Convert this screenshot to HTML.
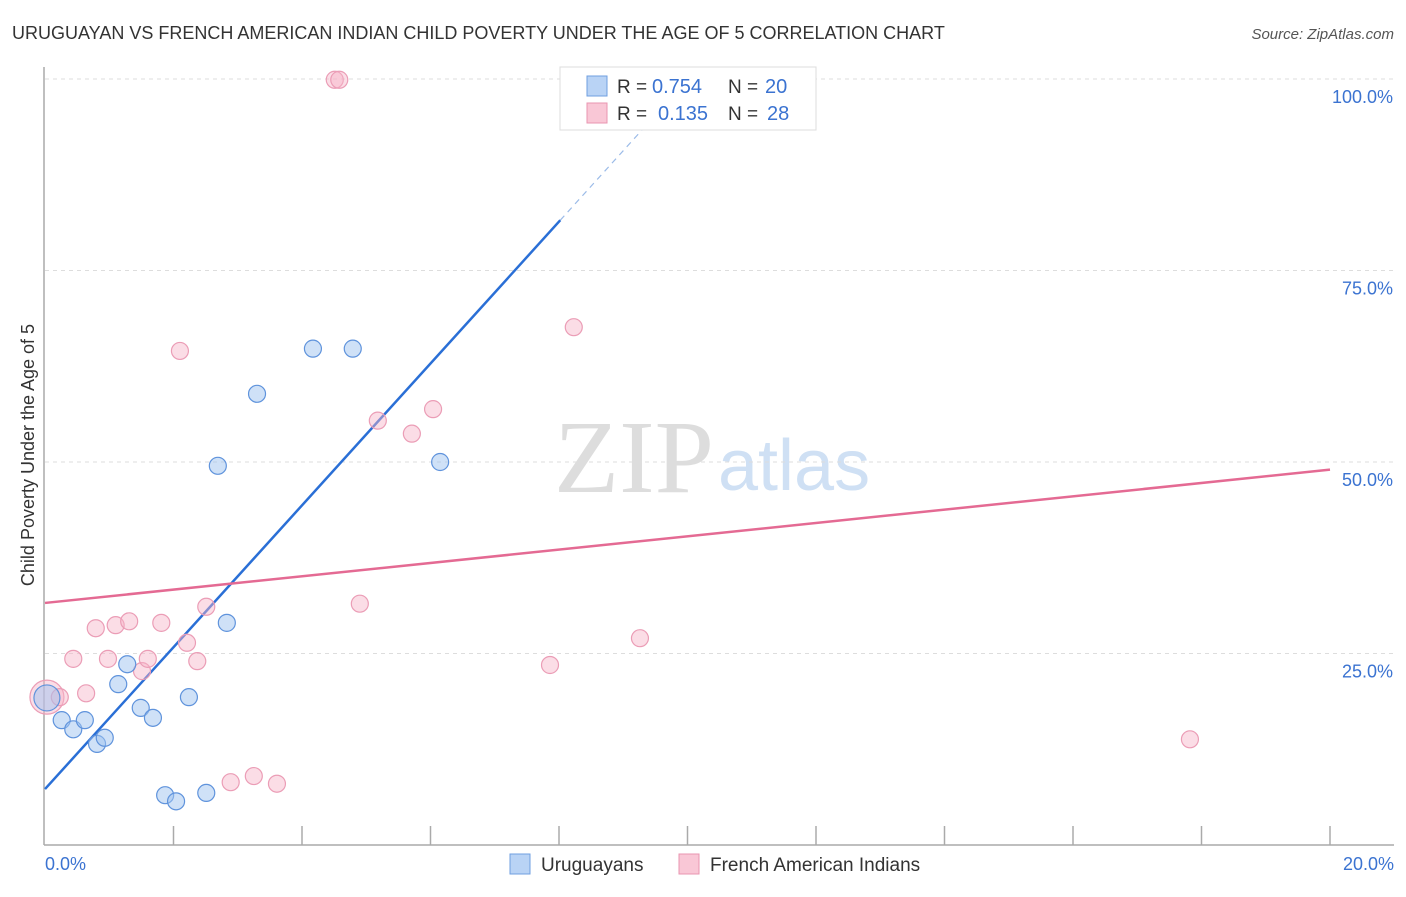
<!DOCTYPE html>
<html><head><meta charset="utf-8"><style>
body{margin:0;background:#fff;font-family:"Liberation Sans",sans-serif;}
</style></head><body>
<svg id="c" width="1406" height="892" xmlns="http://www.w3.org/2000/svg">
<text x="12" y="39" font-size="18" fill="#333">URUGUAYAN VS FRENCH AMERICAN INDIAN CHILD POVERTY UNDER THE AGE OF 5 CORRELATION CHART</text>
<text x="1394" y="39" font-size="15" fill="#555" font-style="italic" text-anchor="end">Source: ZipAtlas.com</text>
<text x="714" y="492" font-size="104" font-family="Liberation Serif,serif" fill="#ddd" text-anchor="end" textLength="160" lengthAdjust="spacingAndGlyphs">ZIP</text>
<text x="718" y="490" font-size="72" fill="#cfe0f4">atlas</text>
<g id="grid"></g><g id="axes"></g><g id="lines"></g><g id="pts"></g>
<text transform="translate(34,455) rotate(-90)" font-size="18" fill="#333" text-anchor="middle">Child Poverty Under the Age of 5</text>
<text x="45" y="870" font-size="18" fill="#3b73d1">0.0%</text>
<text x="1394" y="870" font-size="18" fill="#3b73d1" text-anchor="end">20.0%</text>
<g>
<rect x="560" y="67" width="256" height="63" fill="#fff" stroke="#ddd"/>
<rect x="587" y="76" width="20" height="20" fill="#b9d3f5" stroke="#6f9fe0"/>
<rect x="587" y="103" width="20" height="20" fill="#f9c7d6" stroke="#e995b0"/>
<text x="617" y="93" font-size="19" fill="#333">R =</text>
<text x="652" y="93" font-size="20" fill="#3b73d1">0.754</text>
<text x="728" y="93" font-size="19" fill="#333">N =</text>
<text x="765" y="93" font-size="20" fill="#3b73d1">20</text>
<text x="617" y="120" font-size="19" fill="#333">R =</text>
<text x="658" y="120" font-size="20" fill="#3b73d1">0.135</text>
<text x="728" y="120" font-size="19" fill="#333">N =</text>
<text x="767" y="120" font-size="20" fill="#3b73d1">28</text>
</g>
<g>
<rect x="510" y="854" width="20" height="20" fill="#b9d3f5" stroke="#6f9fe0"/>
<text x="541" y="871" font-size="19" fill="#333">Uruguayans</text>
<rect x="679" y="854" width="20" height="20" fill="#f9c7d6" stroke="#e995b0"/>
<text x="710" y="871" font-size="19" fill="#333">French American Indians</text>
</g>
</svg>
<script>
const blueX=[0.03,0.26,0.44,0.62,0.81,0.93,1.14,1.28,1.49,1.68,1.87,2.04,2.24,2.51,2.69,2.83,3.30,4.17,4.79,6.15];
const blueY=[19.2,16.3,15.1,16.3,13.2,14.0,21.0,23.6,17.9,16.6,6.5,5.7,19.3,6.8,49.5,29.0,58.9,64.8,64.8,50.0];
const pinkX=[0.03,0.23,0.44,0.64,0.79,0.98,1.10,1.31,1.51,1.60,1.81,2.21,2.37,2.51,2.10,2.89,3.25,3.61,4.51,4.58,4.90,5.18,5.71,6.04,7.86,8.23,9.26,17.82];
const pinkY=[19.3,19.3,24.3,19.8,28.3,24.3,28.7,29.2,22.7,24.3,29.0,26.4,24.0,31.1,64.5,8.2,9.0,8.0,99.9,99.9,31.5,55.4,53.7,56.9,23.5,67.6,27.0,13.8];
const yTicks=[25,50,75,100];
const yTickLabels=["25.0%","50.0%","75.0%","100.0%"];
const blueLine=[7.3,9.26];
const pinkLine=[31.6,0.87];
const NS="http://www.w3.org/2000/svg";
const sx=v=>45+v/20*1285, sy=v=>845-v/100*766;
function mk(t,a,p){const e=document.createElementNS(NS,t);for(const k in a)e.setAttribute(k,a[k]);document.getElementById(p).appendChild(e);return e;}
yTicks.forEach((t,i)=>{
 const g=mk('line',{x1:45,x2:1394,y1:sy(t),y2:sy(t),stroke:'#ddd','stroke-dasharray':'4,4'},'grid');
 
 
 const l=mk('text',{x:1393,y:sy(t)+24,'font-size':18,fill:'#3b73d1','text-anchor':'end'},'grid');
 l.textContent=yTickLabels[i];
 
 
});
let ax=mk('line',{x1:44,x2:44,y1:67,y2:845,stroke:'#aaa','stroke-width':1.5},'axes');


ax=mk('line',{x1:44,x2:1394,y1:845,y2:845,stroke:'#aaa','stroke-width':1.5},'axes');


for(let i=1;i<=10;i++){const t=mk('line',{x1:sx(i*2),x2:sx(i*2),y1:826,y2:845,stroke:'#aaa','stroke-width':1.5},'axes');
 
 }
const bx1=8.02,bx2=9.6;
let ln=mk('line',{x1:sx(0),y1:sy(blueLine[0]),x2:sx(bx1),y2:sy(blueLine[0]+blueLine[1]*bx1),stroke:'#2a6fd6','stroke-width':2.5},'lines');


ln=mk('line',{x1:sx(bx1),y1:sy(blueLine[0]+blueLine[1]*bx1),x2:sx(bx2),y2:sy(blueLine[0]+blueLine[1]*bx2),stroke:'#9bbbe8','stroke-width':1.2,'stroke-dasharray':'6,5'},'lines');


ln=mk('line',{x1:sx(0),y1:sy(pinkLine[0]),x2:sx(20),y2:sy(pinkLine[0]+pinkLine[1]*20),stroke:'#e46a93','stroke-width':2.5},'lines');


pinkX.forEach((x,i)=>{const c=mk('circle',{cx:sx(x),cy:sy(pinkY[i]),r:i==0?17:8.5,fill:'rgba(246,180,200,0.45)',stroke:'#eb9db6','stroke-width':1.2},'pts');
 
 });
blueX.forEach((x,i)=>{const c=mk('circle',{cx:sx(x),cy:sy(blueY[i]),r:i==0?13:8.5,fill:'rgba(160,196,240,0.5)',stroke:'#5f93dc','stroke-width':1.2},'pts');
 
 });
</script>
</body></html>
